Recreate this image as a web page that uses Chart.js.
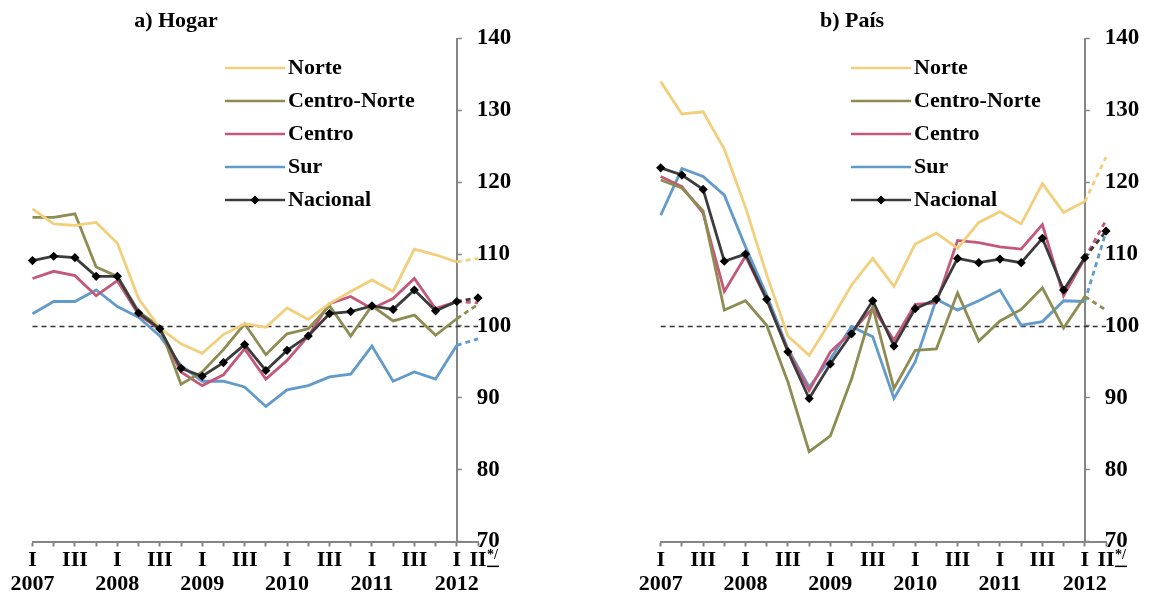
<!DOCTYPE html>
<html>
<head>
<meta charset="utf-8">
<title>Índices regionales</title>
<script src="https://cdn.jsdelivr.net/npm/chart.js@4.4.1/dist/chart.umd.min.js"></script>
<style>
  html, body { margin: 0; padding: 0; background: #ffffff; }
  #wrap { position: relative; width: 1151px; height: 595px; overflow: hidden; }
  .panel { position: absolute; top: 0; height: 595px; }
  #p1 { left: 0; width: 575px; }
  #p2 { left: 575px; width: 576px; }
</style>
</head>
<body>
<div id="wrap">
  <div class="panel" id="p1"><canvas id="c1"></canvas></div>
  <div class="panel" id="p2"><canvas id="c2"></canvas></div>
</div>
<script>
// ---- data -------------------------------------------------------------
const QUARTER_LABELS = ['I','','III','','I','','III','','I','','III','','I','','III','','I','','III','','I','II'];
const YEAR_LABELS    = ['2007','','','','2008','','','','2009','','','','2010','','','','2011','','','','2012',''];
const SERIES_NAMES   = ['Norte', 'Centro-Norte', 'Centro', 'Sur', 'Nacional'];
const PANEL_TITLES   = ['a) Hogar', 'b) País'];
const FOOTNOTE_MARK  = '*/';

const Y_MIN = 70, Y_MAX = 140, Y_STEP = 10;
const BASELINE = 100;          // reference level
const AXIS_AT = 20;            // value axis crosses at I-2012
const PROJECTED_FROM = 20;     // last segment is a preliminary figure

const hogarNorte       = [116.3, 114.2, 114.0, 114.4, 111.5, 103.8, 99.7, 97.5, 96.2, 98.8, 100.3, 99.8, 102.5, 100.9, 103.1, 104.8, 106.4, 104.8, 110.7, 109.9, 108.9, 109.4];
const hogarCentroNorte = [115.1, 115.1, 115.6, 108.2, 106.9, 102.0, 99.9, 91.9, 93.6, 96.7, 100.3, 96.0, 98.9, 99.6, 102.8, 98.6, 102.8, 100.7, 101.5, 98.7, 101.0, 103.0];
const hogarCentro      = [106.6, 107.6, 107.0, 104.2, 106.3, 101.6, 99.5, 93.6, 91.7, 93.2, 96.8, 92.6, 95.2, 98.6, 103.1, 104.1, 102.4, 103.8, 106.6, 102.4, 103.4, 103.2];
const hogarSur         = [101.7, 103.4, 103.4, 105.0, 102.7, 101.2, 98.6, 94.5, 92.3, 92.3, 91.5, 88.8, 91.1, 91.7, 92.9, 93.3, 97.2, 92.3, 93.6, 92.6, 97.3, 98.2];
const hogarNacional    = [109.1, 109.7, 109.5, 106.9, 106.9, 101.8, 99.6, 94.1, 93.0, 94.9, 97.4, 93.8, 96.6, 98.6, 101.7, 102.0, 102.8, 102.3, 105.0, 102.1, 103.4, 103.9];

const paisNorte        = [134.0, 129.5, 129.8, 124.6, 116.5, 107.1, 98.6, 95.9, 100.6, 105.7, 109.4, 105.5, 111.4, 112.9, 110.8, 114.4, 115.9, 114.2, 119.8, 115.8, 117.3, 123.5];
const paisCentroNorte  = [120.3, 119.2, 116.0, 102.2, 103.5, 100.1, 92.2, 82.5, 84.7, 92.6, 102.6, 91.3, 96.6, 96.8, 104.6, 97.9, 100.7, 102.3, 105.3, 99.7, 104.1, 102.2];
const paisCentro       = [120.8, 119.4, 115.7, 104.8, 109.7, 103.6, 96.6, 91.0, 96.4, 99.1, 102.5, 98.0, 103.0, 103.2, 111.9, 111.6, 111.0, 110.7, 114.1, 104.2, 109.4, 114.7];
const paisSur          = [115.4, 121.9, 120.8, 118.2, 111.0, 104.3, 96.8, 91.5, 95.4, 99.9, 98.5, 89.9, 95.0, 103.7, 102.2, 103.5, 105.0, 100.1, 100.6, 103.5, 103.4, 113.1];
const paisNacional     = [122.0, 121.0, 119.0, 109.0, 110.0, 103.7, 96.4, 89.9, 94.7, 98.9, 103.5, 97.2, 102.4, 103.7, 109.4, 108.8, 109.3, 108.8, 112.2, 105.0, 109.5, 113.2];

// ---- styling ----------------------------------------------------------
const SERIES_COLORS = ['#F2CF7C', '#8E8C52', '#C4587A', '#629BC9', '#3C3C3C'];
const FONT_FAMILY = '"Liberation Serif", "Times New Roman", serif';
const AXIS_COLOR = '#858585';
const LINE_WIDTH = 2.8;
const TEXT_SIZE = 22;

// small line sample (with a diamond for the national series) for the legend
function legendSample(color, withMarker) {
  const c = document.createElement('canvas');
  c.width = 60; c.height = 12;
  const g = c.getContext('2d');
  g.strokeStyle = color; g.lineWidth = 2.6;
  g.beginPath(); g.moveTo(0, 6); g.lineTo(60, 6); g.stroke();
  if (withMarker) {
    g.fillStyle = '#000';
    g.beginPath(); g.moveTo(30, 1.5); g.lineTo(34.5, 6); g.lineTo(30, 10.5); g.lineTo(25.5, 6); g.closePath(); g.fill();
  }
  return c;
}

// positions the value axis, title and legend, draws the reference line and footnote mark
const panelLayout = {
  id: 'panelLayout',
  afterLayout(chart, args, opts) {
    const xs = chart.scales.x, ys = chart.scales.y;
    const ax = xs.getPixelForValue(AXIS_AT);
    ys.left = ax;
    ys.right = Math.max(ax + ys.width, chart.width);

    const t = chart.titleBlock;
    if (t) {
      t.left = opts.titleX - 150; t.right = opts.titleX + 150; t.width = 300;
      t.top = opts.titleY - t.height / 2; t.bottom = t.top + t.height;
    }
    const lg = chart.legend;
    if (lg) {
      lg.left = opts.legendX; lg.top = opts.legendY;
      lg.width = 320; lg.height = 260;
      lg.right = lg.left + lg.width; lg.bottom = lg.top + lg.height;
    }
  },
  beforeDatasetsDraw(chart) {
    const xs = chart.scales.x, ys = chart.scales.y, ctx = chart.ctx;
    const py = Math.round(ys.getPixelForValue(BASELINE)) + 0.5;
    ctx.save();
    ctx.strokeStyle = '#333';
    ctx.lineWidth = 1.3;
    ctx.setLineDash([5, 4]);
    ctx.beginPath(); ctx.moveTo(xs.left, py); ctx.lineTo(xs.right, py); ctx.stroke();
    ctx.restore();
  },
  afterDraw(chart) {
    const xs = chart.scales.x, ctx = chart.ctx;
    const last = QUARTER_LABELS.length - 1;
    const px = xs.getPixelForValue(last);
    const tickOpts = xs.options.ticks;
    const lh = tickOpts.font.size * tickOpts.font.lineHeight;
    const rowCenter = xs.top + xs.options.grid.tickLength + tickOpts.padding + lh / 2;
    ctx.save();
    ctx.font = 'bold ' + tickOpts.font.size + 'px ' + FONT_FAMILY;
    const w = ctx.measureText(QUARTER_LABELS[last]).width;
    ctx.font = 'bold 14px ' + FONT_FAMILY;
    ctx.fillStyle = '#000';
    ctx.textBaseline = 'middle';
    ctx.textAlign = 'left';
    const sx = px + w / 2 + 0.5, sy = rowCenter - 5;
    ctx.fillText(FOOTNOTE_MARK, sx, sy);
    const sw = ctx.measureText(FOOTNOTE_MARK).width;
    ctx.fillRect(sx, rowCenter + 5, sw + 1, 1.5);
    ctx.restore();
  }
};

function makePanel(canvasId, title, series, geom) {
  const labels = QUARTER_LABELS.map((q, i) => [q, YEAR_LABELS[i]]);
  const datasets = series.map((values, i) => {
    const isNat = i === SERIES_NAMES.length - 1;
    return {
      label: SERIES_NAMES[i],
      data: values,
      borderColor: SERIES_COLORS[i],
      backgroundColor: isNat ? '#000' : SERIES_COLORS[i],
      borderWidth: LINE_WIDTH,
      pointRadius: isNat ? 4.6 : 0,
      pointHoverRadius: isNat ? 4.6 : 0,
      pointStyle: 'rectRot',
      pointBorderWidth: 0,
      tension: 0,
      clip: false,
      order: isNat ? 0 : 1,
      segment: {
        borderDash: ctx => (ctx.p0DataIndex >= PROJECTED_FROM ? [5, 4] : undefined)
      }
    };
  });

  return new Chart(document.getElementById(canvasId), {
    type: 'line',
    data: { labels, datasets },
    plugins: [panelLayout],
    options: {
      responsive: true,
      maintainAspectRatio: false,
      animation: false,
      events: [],
      layout: { padding: { left: geom.left, right: 0, top: 12.1, bottom: 0 } },
      plugins: {
        panelLayout: { titleX: geom.titleX, titleY: 21, legendX: geom.legendX, legendY: 46 },
        title: {
          display: true,
          text: title,
          color: '#000',
          padding: 0,
          font: { family: FONT_FAMILY, size: TEXT_SIZE, weight: 'bold', lineHeight: 1.2 }
        },
        legend: {
          display: true,
          position: 'chartArea',
          align: 'start',
          labels: {
            usePointStyle: true,
            pointStyleWidth: 44,
            boxHeight: 12,
            padding: 11,
            color: '#000',
            font: { family: FONT_FAMILY, size: TEXT_SIZE, weight: 'bold' },
            generateLabels: chart => chart.data.datasets.map((ds, i) => ({
              text: ds.label,
              fillStyle: ds.borderColor,
              strokeStyle: ds.borderColor,
              lineWidth: 0,
              pointStyle: legendSample(ds.borderColor, i === SERIES_NAMES.length - 1),
              hidden: false,
              datasetIndex: i,
              fontColor: '#000'
            }))
          }
        },
        tooltip: { enabled: false }
      },
      scales: {
        x: {
          type: 'category',
          position: 'bottom',
          offset: false,
          afterFit: s => { s.height = 53.5; },
          border: { display: true, color: AXIS_COLOR, width: 2 },
          grid: { display: true, drawOnChartArea: false, drawTicks: true, tickLength: 5, tickColor: AXIS_COLOR, tickWidth: 2, color: AXIS_COLOR },
          ticks: {
            autoSkip: false, maxRotation: 0, minRotation: 0, padding: 2,
            color: '#000',
            font: { family: FONT_FAMILY, size: TEXT_SIZE, weight: 'bold', lineHeight: 1.1 }
          }
        },
        y: {
          type: 'linear',
          position: 'right',
          min: Y_MIN, max: Y_MAX,
          afterFit: s => { s.width = geom.yWidth; },
          border: { display: true, color: AXIS_COLOR, width: 2 },
          grid: { display: true, drawOnChartArea: false, drawTicks: true, tickLength: 5, tickColor: AXIS_COLOR, tickWidth: 1.5 },
          ticks: {
            stepSize: Y_STEP, padding: 15,
            color: '#000',
            font: { family: FONT_FAMILY, size: 23, weight: 'bold' }
          }
        }
      }
    }
  });
}

makePanel('c1', PANEL_TITLES[0],
  [hogarNorte, hogarCentroNorte, hogarCentro, hogarSur, hogarNacional],
  { left: 32.5, yWidth: 97, titleX: 176, legendX: 222 });

makePanel('c2', PANEL_TITLES[1],
  [paisNorte, paisCentroNorte, paisCentro, paisSur, paisNacional],
  { left: 85.7, yWidth: 45, titleX: 277, legendX: 273 });
</script>
</body>
</html>
